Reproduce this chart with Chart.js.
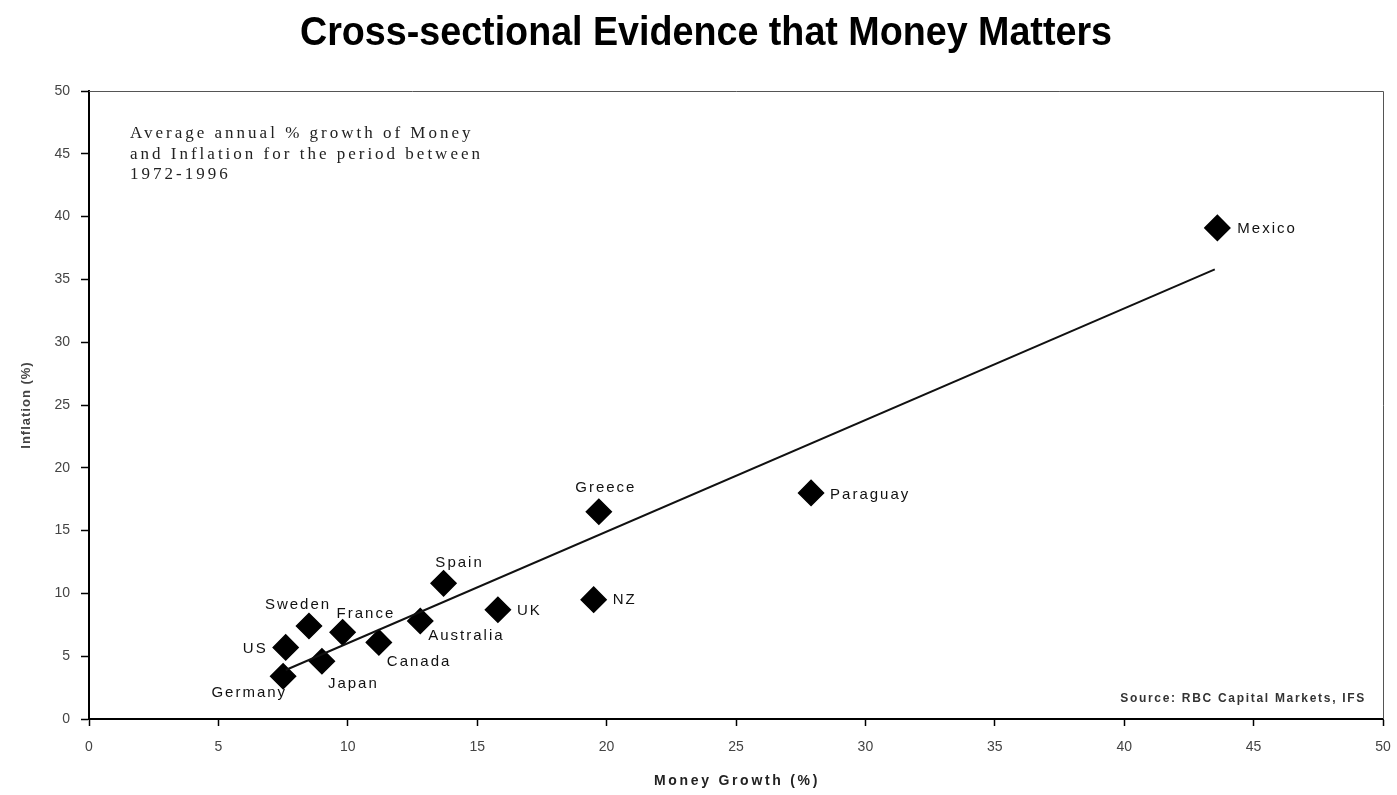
<!DOCTYPE html>
<html>
<head>
<meta charset="utf-8">
<script src="https://cdn.jsdelivr.net/npm/chart.js@4/dist/chart.umd.min.js"></script>
<style>
  html, body { margin: 0; padding: 0; background: #fff; }
  #wrap { width: 1397px; height: 795px; }
</style>
</head>
<body>
<div id="wrap"><canvas id="chart" width="1397" height="795"></canvas></div>
<script>
// data
const countries   = ["Mexico", "Paraguay", "Greece", "NZ", "UK", "Spain", "Australia", "Canada", "France", "Sweden", "US", "Japan", "Germany"];
const moneyGrowth = [43.6, 27.9, 19.7, 19.5, 15.8, 13.7, 12.8, 11.2, 9.8, 8.5, 7.6, 9.0, 7.5];
const inflation   = [39.1, 18.0, 16.5, 9.5, 8.7, 10.8, 7.8, 6.1, 6.9, 7.4, 5.7, 4.6, 3.4];
const trendX = [7.6, 43.5];
const trendY = [3.9, 35.8];
const xTicks = [0, 5, 10, 15, 20, 25, 30, 35, 40, 45, 50];
const yTicks = [0, 5, 10, 15, 20, 25, 30, 35, 40, 45, 50];
const titleText = "Cross-sectional Evidence that Money Matters";
const xTitle = "Money Growth (%)";
const yTitle = "Inflation (%)";
const noteLines = ["Average annual % growth of Money", "and Inflation for the period between", "1972-1996"];
const sourceText = "Source: RBC Capital Markets, IFS";

// where each country name sits next to its marker
const labelOffsets = {
  Mexico:    ["left", 20, 1],
  Paraguay:  ["left", 19, 2],
  Greece:    ["center", 7, -24],
  NZ:        ["left", 19, 0],
  UK:        ["left", 19, 1],
  Spain:     ["center", 16, -20],
  Australia: ["left", 8, 15],
  Canada:    ["left", 8, 19],
  France:    ["left", -6, -18],
  Sweden:    ["center", -11, -21],
  US:        ["right", -18, 1],
  Japan:     ["left", 6, 23],
  Germany:   ["right", 4, 17]
};

const points = moneyGrowth.map((x, i) => ({ x: x, y: inflation[i] }));
const trend = trendX.map((x, i) => ({ x: x, y: trendY[i] }));

const extras = {
  id: "extras",
  afterDraw(chart) {
    const ctx = chart.ctx;
    const area = chart.chartArea;
    ctx.save();

    // thin frame on top and right
    ctx.strokeStyle = "#555";
    ctx.lineWidth = 1;
    ctx.beginPath();
    ctx.moveTo(area.left, area.top + 0.5);
    ctx.lineTo(area.right + 0.5, area.top + 0.5);
    ctx.lineTo(area.right + 0.5, area.bottom);
    ctx.stroke();

    // title, squeezed like a narrow face
    ctx.font = "bold 41px 'Liberation Sans', Arial, sans-serif";
    ctx.fillStyle = "#000";
    ctx.textAlign = "left";
    ctx.textBaseline = "alphabetic";
    const tw = ctx.measureText(titleText).width;
    const sx = 812 / tw;
    ctx.save();
    ctx.translate(300, 45);
    ctx.scale(sx, 1);
    ctx.fillText(titleText, 0, 0);
    ctx.restore();

    // axis titles
    ctx.textBaseline = "middle";
    ctx.textAlign = "center";
    ctx.font = "bold 14px 'Liberation Sans', Arial, sans-serif";
    ctx.letterSpacing = "2.7px";
    ctx.fillStyle = "#222";
    ctx.fillText(xTitle, (area.left + area.right) / 2 + 1, 781);
    ctx.save();
    ctx.translate(26, (area.top + area.bottom) / 2);
    ctx.rotate(-Math.PI / 2);
    ctx.font = "bold 13px 'Liberation Sans', Arial, sans-serif";
    ctx.letterSpacing = "1px";
    ctx.fillStyle = "#444";
    ctx.fillText(yTitle, 0, 0);
    ctx.restore();

    // country names
    const meta = chart.getDatasetMeta(1);
    ctx.fillStyle = "#111";
    ctx.font = "15px 'Liberation Sans', Arial, sans-serif";
    ctx.textBaseline = "middle";
    ctx.letterSpacing = "2px";
    meta.data.forEach((pt, i) => {
      const o = labelOffsets[countries[i]];
      ctx.textAlign = o[0];
      ctx.fillText(countries[i], pt.x + o[1], pt.y + o[2]);
    });

    // note in the top left
    ctx.font = "17px 'Liberation Serif', 'Times New Roman', serif";
    ctx.letterSpacing = "3px";
    ctx.textAlign = "left";
    ctx.fillStyle = "#222";
    noteLines.forEach((line, i) => {
      ctx.fillText(line, area.left + 41, area.top + 43 + i * 20.5);
    });

    // source
    ctx.font = "bold 12px 'Liberation Sans', Arial, sans-serif";
    ctx.letterSpacing = "1.7px";
    ctx.textAlign = "right";
    ctx.fillStyle = "#333";
    ctx.fillText(sourceText, area.right - 17, area.bottom - 20);

    ctx.restore();
  }
};

new Chart(document.getElementById("chart"), {
  type: "scatter",
  data: {
    datasets: [
      {
        label: "Trend",
        data: trend,
        showLine: true,
        borderColor: "#111",
        borderWidth: 2,
        pointRadius: 0,
        fill: false
      },
      {
        label: "Countries",
        data: points,
        pointStyle: "rectRot",
        pointRadius: 12.5,
        pointHoverRadius: 12.5,
        backgroundColor: "#000",
        borderColor: "#000",
        borderWidth: 1.5
      }
    ]
  },
  options: {
    responsive: false,
    animation: false,
    events: [],
    layout: { padding: { left: 0, right: 10, top: 91, bottom: 0 } },
    plugins: {
      legend: { display: false },
      tooltip: { enabled: false },
      title: { display: false }
    },
    scales: {
      x: {
        type: "linear",
        min: 0,
        max: 50,
        afterBuildTicks: scale => { scale.ticks = xTicks.map(v => ({ value: v })); },
        afterFit: scale => { scale.height = 76; scale.paddingRight = 0; scale.paddingLeft = 0; },
        grid: { drawOnChartArea: false, drawTicks: true, tickLength: 7, tickColor: "#000", tickWidth: 1.5 },
        border: { display: true, color: "#000", width: 2 },
        ticks: { color: "#444", padding: 13, font: { family: "'Liberation Sans', Arial, sans-serif", size: 14 } }
      },
      y: {
        type: "linear",
        min: 0,
        max: 50,
        afterBuildTicks: scale => { scale.ticks = yTicks.map(v => ({ value: v })); },
        afterFit: scale => { scale.width = 89; scale.paddingTop = 0; scale.paddingBottom = 0; },
        grid: { drawOnChartArea: false, drawTicks: true, tickLength: 8, tickColor: "#000", tickWidth: 1.5 },
        border: { display: true, color: "#000", width: 2 },
        ticks: { color: "#444", padding: 11, font: { family: "'Liberation Sans', Arial, sans-serif", size: 14 } }
      }
    }
  },
  plugins: [extras]
});
</script>
</body>
</html>
